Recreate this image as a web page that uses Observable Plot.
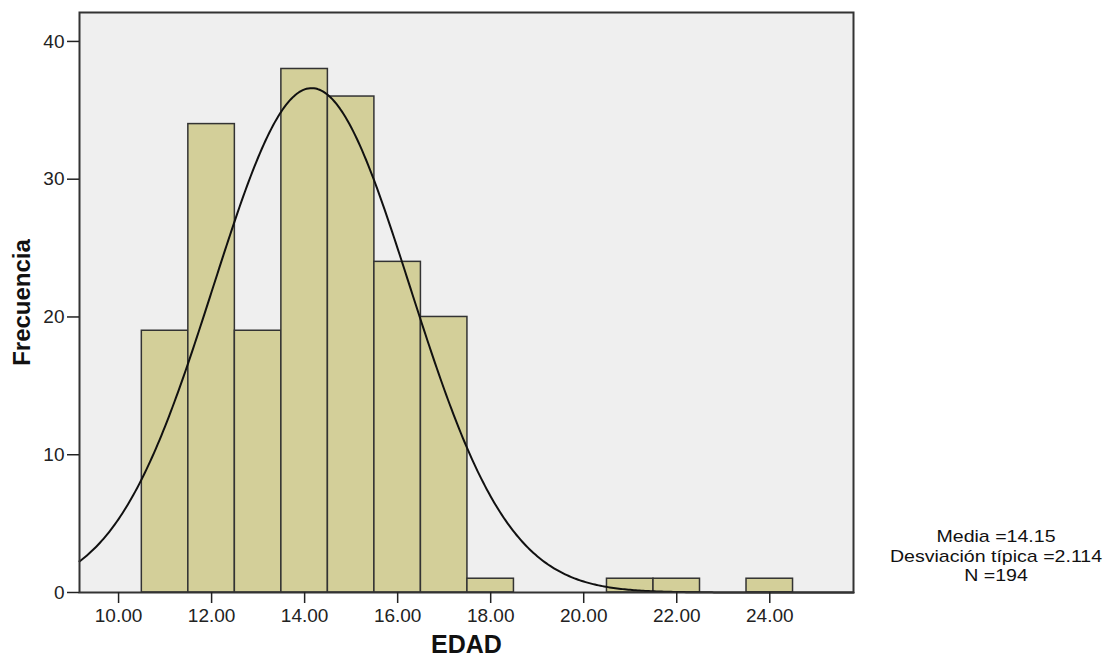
<!DOCTYPE html>
<html>
<head>
<meta charset="utf-8">
<script src="https://cdn.jsdelivr.net/npm/d3@7"></script>
<script src="https://cdn.jsdelivr.net/npm/@observablehq/plot@0.6"></script>
<style>
  html, body { margin: 0; padding: 0; background: #fff; }
  #wrap { position: relative; width: 1112px; height: 660px; }
  #stats {
    position: absolute; left: 896px; top: 527px; width: 200px;
    text-align: center; font-family: "Liberation Sans", Arial, sans-serif;
    font-size: 17px; line-height: 19.5px; color: #111;
    transform: scaleX(1.15); transform-origin: center top;
    white-space: nowrap;
  }
</style>
</head>
<body>
<div id="wrap"><div id="stats"></div></div>
<script>
// Histogram bins (left edge of each bin, width 1)
const binStarts = [10.5, 11.5, 12.5, 13.5, 14.5, 15.5, 16.5, 17.5, 20.5, 21.5, 23.5];
const counts    = [19,   34,   19,   38,   36,   24,   20,   1,    1,    1,    1];
const binWidth = 1;
// Summary statistics shown in the legend
const mean = 14.15;
const sd = 2.114;
const n = 194;
const statLabels = ["Media =14.15", "Desviación típica =2.114", "N =194"];
// Axis ticks
const xTicks = [10, 12, 14, 16, 18, 20, 22, 24];
const yTicks = [0, 10, 20, 30, 40];
const xDomain = [9.16, 25.8];
const yDomain = [0, 42.1];

const bars = binStarts.map((s, i) => ({x1: s, x2: s + binWidth, y: counts[i]}));

// Fitted normal curve scaled to counts (from mean, sd, n)
const curve = d3.range(xDomain[0], xDomain[1] + 0.001, 0.04).map(x => ({
  x, y: n * binWidth * Math.exp(-0.5 * ((x - mean) / sd) ** 2) / (sd * Math.sqrt(2 * Math.PI))
}));

const chart = Plot.plot({
  width: 1112,
  height: 660,
  marginLeft: 79,
  marginRight: 259,
  marginTop: 12,
  marginBottom: 68,
  style: {fontFamily: "Liberation Sans, Arial, sans-serif", fontSize: "19px", color: "#222", background: "#fff"},
  x: {domain: xDomain},
  y: {domain: yDomain},
  marks: [
    Plot.frame({fill: "#efefef", stroke: null}),
    Plot.rectY(bars, {x1: "x1", x2: "x2", y: "y", fill: "#d3cf99", stroke: "#333", strokeWidth: 1.5}),
    Plot.line(curve, {x: "x", y: "y", stroke: "#111", strokeWidth: 2, curve: "linear"}),
    Plot.frame({stroke: "#333", strokeWidth: 2}),
    Plot.axisX({ticks: xTicks, tickFormat: d3.format(".2f"), tickSize: 11, tickPadding: 5, label: null, stroke: "#222", strokeWidth: 1.5, fontSize: 19}),
    Plot.axisY({ticks: yTicks, tickFormat: d3.format("d"), tickSize: 12, tickPadding: 3, label: null, stroke: "#222", strokeWidth: 1.5, fontSize: 19}),
    Plot.text(["EDAD"], {frameAnchor: "bottom", lineAnchor: "middle", dy: 52, fontSize: 25, fontWeight: "bold", fill: "#111"}),
    Plot.text(["Frecuencia"], {frameAnchor: "left", textAnchor: "middle", lineAnchor: "middle", dx: -57, rotate: -90, fontSize: 24, fontWeight: "bold", fill: "#111"})
  ]
});

document.getElementById("wrap").prepend(chart);
document.getElementById("stats").innerHTML = statLabels.join("<br>");
</script>
</body>
</html>
